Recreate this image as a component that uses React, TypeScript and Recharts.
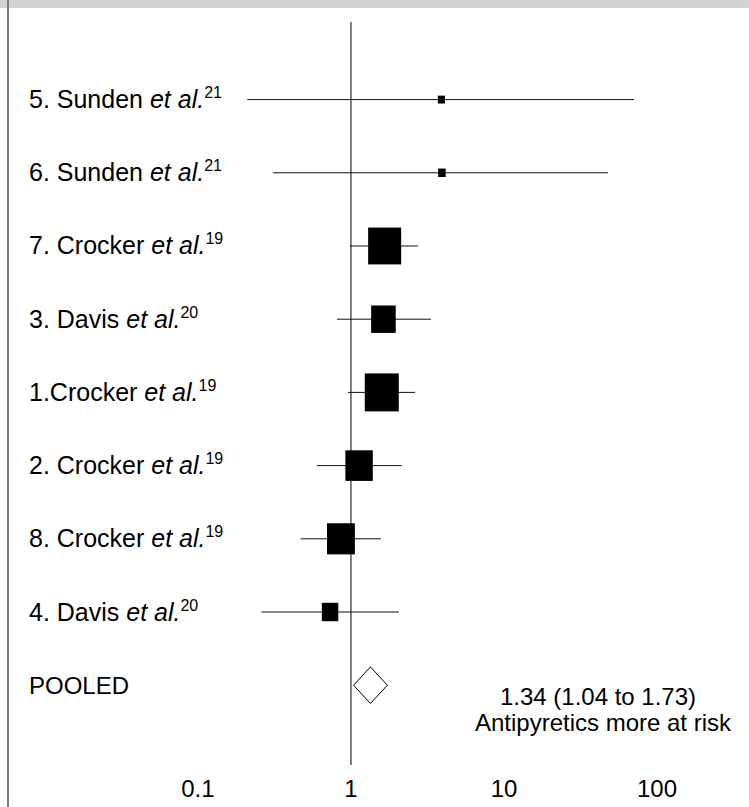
import {
  ComposedChart,
  Scatter,
  XAxis,
  YAxis,
  ReferenceLine,
} from "recharts";

// studies, top to bottom
const studyLabels = [
  "5. Sunden",
  "6. Sunden",
  "7. Crocker",
  "3. Davis",
  "1.Crocker",
  "2. Crocker",
  "8. Crocker",
  "4. Davis",
];
const refNumbers = ["21", "21", "19", "20", "19", "19", "19", "20"];
const oddsRatio = [3.9, 3.93, 1.66, 1.63, 1.59, 1.13, 0.86, 0.73];
const ciLower = [0.21, 0.31, 0.985, 0.81, 0.956, 0.6, 0.47, 0.26];
const ciUpper = [70.8, 47.8, 2.74, 3.33, 2.62, 2.15, 1.57, 2.06];
const weights = [1.05, 1.2, 22.9, 12.7, 24.3, 15.8, 16.3, 5.7];

// pooled estimate: lower, point, upper
const pooledEstimate = [1.04, 1.34, 1.73];
const pooledLabel = "POOLED";
const pooledText = "1.34 (1.04 to 1.73)";
const footnote = "Antipyretics more at risk";

const xTicks = [0.1, 1, 10, 100];

const FONT = '"Liberation Sans", Arial, sans-serif';
const pooledRow = studyLabels.length;
const diamondHalf = 0.25;

const studies = studyLabels.map((label, i) => ({
  label,
  ref: refNumbers[i],
  x: oddsRatio[i],
  y: i,
  lo: ciLower[i],
  hi: ciUpper[i],
  w: weights[i],
}));

const [pLo, pMid, pHi] = pooledEstimate;
const diamond = [
  { x: pLo, y: pooledRow },
  { x: pMid, y: pooledRow - diamondHalf },
  { x: pHi, y: pooledRow },
  { x: pMid, y: pooledRow + diamondHalf },
  { x: pLo, y: pooledRow },
];

function WeightBox(props: any) {
  const { cx, cy, payload } = props;
  const s = Math.sqrt(payload.w);
  const w = 6.9 * s;
  const h = 7.7 * s;
  return <rect x={cx - w / 2} y={cy - h / 2} width={w} height={h} fill="#000" />;
}

function StudyTick(props: any) {
  const { y, payload } = props;
  const i = payload.value;
  if (i === pooledRow) {
    return (
      <text x={29} y={y} dy={8.5} fontSize={24} fill="#000" fontFamily={FONT}>
        {pooledLabel}
      </text>
    );
  }
  const s = studies[i];
  if (!s) return null;
  return (
    <text x={29} y={y} dy={8.5} fontSize={25} fill="#000" fontFamily={FONT}>
      <tspan>{s.label} </tspan>
      <tspan fontStyle="italic">et al.</tspan>
      <tspan fontSize={16} dy={-10}>
        {s.ref}
      </tspan>
    </text>
  );
}

export default function App() {
  return (
    <div
      style={{
        position: "absolute",
        left: 0,
        top: 0,
        width: 749,
        height: 807,
        background: "#fff",
        fontFamily: FONT,
      }}
    >
      <div
        style={{
          position: "absolute",
          left: 0,
          top: 0,
          width: 749,
          height: 8,
          background: "#d2d2d2",
        }}
      />
      <div
        style={{
          position: "absolute",
          left: 7,
          top: 0,
          width: 2,
          height: 807,
          background: "#7a7a7a",
        }}
      />
      <ComposedChart
        width={749}
        height={807}
        margin={{ top: 22, right: 19, left: 0, bottom: 0 }}
        style={{ position: "absolute", left: 0, top: 0 }}
      >
        <XAxis
          type="number"
          dataKey="x"
          scale="log"
          domain={[0.02, 300]}
          ticks={xTicks}
          allowDataOverflow
          axisLine={false}
          tickLine={false}
          tickSize={13}
          tickMargin={2}
          height={42}
          tick={{ fontSize: 24, fill: "#000", fontFamily: FONT }}
          interval={0}
        />
        <YAxis
          type="number"
          dataKey="y"
          domain={[-1.06, 9.09]}
          reversed
          ticks={[...studies.map((s) => s.y), pooledRow]}
          interval={0}
          axisLine={false}
          tickLine={false}
          width={91}
          tick={<StudyTick />}
        />
        <ReferenceLine x={1} stroke="#000" strokeWidth={1} />
        {studies.map((s) => (
          <ReferenceLine
            key={s.y}
            segment={[
              { x: s.lo, y: s.y },
              { x: s.hi, y: s.y },
            ]}
            stroke="#111"
            strokeWidth={1}
          />
        ))}
        <Scatter
          data={studies}
          dataKey="y"
          shape={<WeightBox />}
          isAnimationActive={false}
        />
        <Scatter
          data={diamond}
          dataKey="y"
          line={{ stroke: "#000", strokeWidth: 1 }}
          lineJointType="linear"
          shape={() => <g />}
          isAnimationActive={false}
        />
        <text
          x={598}
          y={705}
          textAnchor="middle"
          fontSize={24}
          fill="#000"
          fontFamily={FONT}
        >
          {pooledText}
        </text>
        <text
          x={603}
          y={731}
          textAnchor="middle"
          fontSize={24}
          fill="#000"
          fontFamily={FONT}
        >
          {footnote}
        </text>
      </ComposedChart>
    </div>
  );
}
